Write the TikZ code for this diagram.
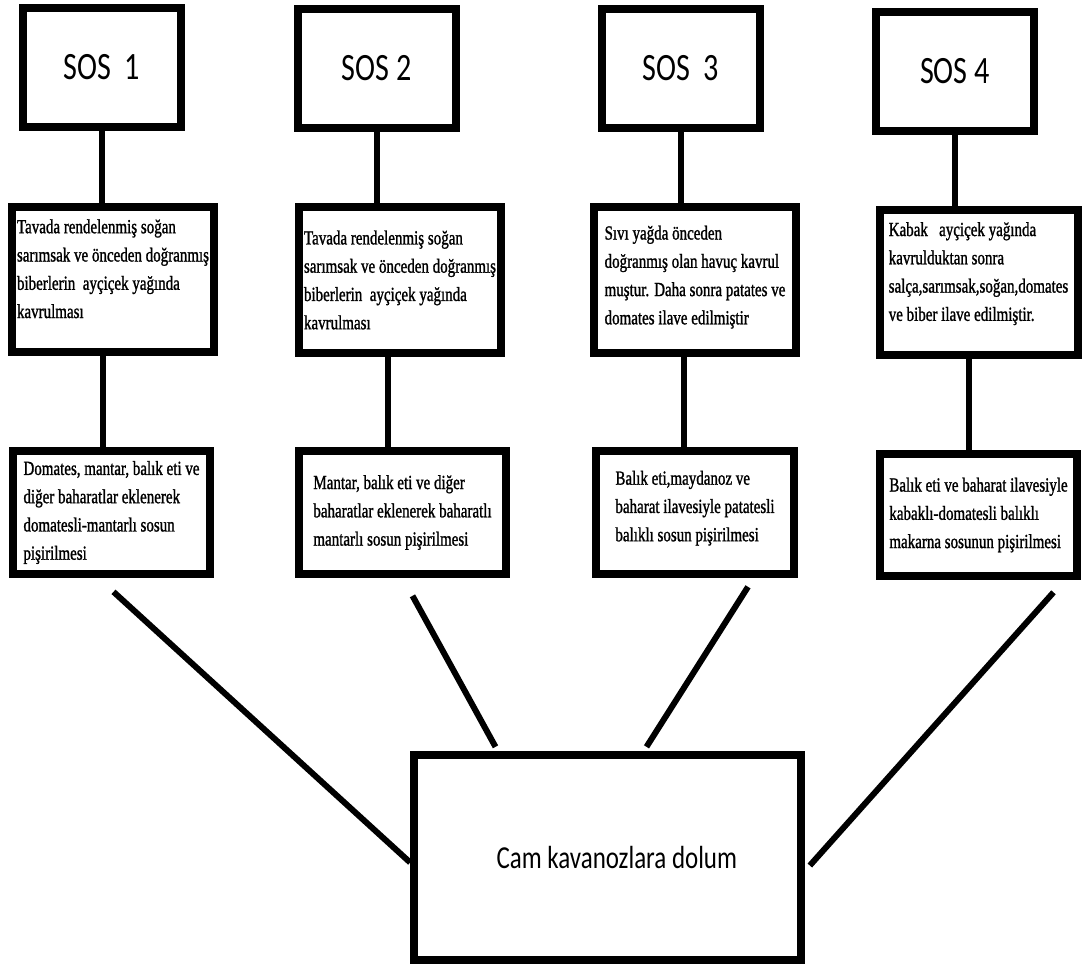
\documentclass[tikz,border=0pt]{standalone}
\usepackage{fontspec}
\newfontfamily\sosfont[FakeStretch=0.78]{Carlito}
\newfontfamily\stepfont[FakeStretch=0.75, FakeBold=1.2]{Liberation Serif}
\usetikzlibrary{positioning, calc}

\begin{document}
\begin{tikzpicture}[
    x=0.75pt, y=-0.75pt,
    sosbox/.style={draw, line width=6pt, minimum width=118.5pt, minimum height=89pt, inner sep=0pt, font=\sosfont\fontsize{29}{34}\selectfont},
    prepbox/.style={draw, line width=6pt, minimum width=151.5pt, minimum height=109pt, inner sep=0pt, align=left, font=\stepfont\fontsize{15}{21.2}\selectfont},
    cookbox/.style={prepbox, minimum width=148pt, minimum height=92pt},
    fillbox/.style={draw, line width=6pt, minimum width=290pt, minimum height=154pt, font=\sosfont\fontsize{24}{28}\selectfont},
    link/.style={line width=4.5pt}
]
\useasboundingbox (0,0) rectangle (1083,968);

% sauces
\node[sosbox] (s1) at (101.5,67.5) {SOS~~1};
\node[sosbox] (s2) at (376.5,68.5) {SOS 2};
\node[sosbox] (s3) at (680.5,68.5) {SOS~~3};
\node[sosbox] (s4) at (955,71.5) {SOS 4};

% first step
\node[prepbox] (m1) at (113,279.5) {Tavada rendelenmiş soğan\\sarımsak ve önceden doğranmış\\biberlerin~~ayçiçek yağında\\kavrulması\\[-5pt]};
\node[prepbox] (m2) at (400,280) {Tavada rendelenmiş soğan\\sarımsak ve önceden doğranmış\\biberlerin~~ayçiçek yağında\\kavrulması};
\node[prepbox] (m3) at (695,280) {Sıvı yağda önceden\\doğranmış olan havuç kavrul\\muştur. Daha sonra patates ve\\domates ilave edilmiştir\\[-13.7pt]};
\node[prepbox, minimum width=148.5pt] (m4) at (978.5,282.5) {Kabak~~~ayçiçek yağında\\kavrulduktan sonra\\salça,sarımsak,soğan,domates\\ve biber ilave edilmiştir.\\[-4.7pt]};

% second step
\node[cookbox] (b1) at (111.5,512.5) {Domates, mantar, balık eti ve\\diğer baharatlar eklenerek\\domatesli-mantarlı sosun\\pişirilmesi};
\node[cookbox, minimum width=155pt] (b2) at (402.5,512.5) {Mantar, balık eti ve diğer\\baharatlar eklenerek baharatlı\\mantarlı sosun pişirilmesi};
\node[cookbox] (b3) at (695,512.5) {Balık eti,maydanoz ve\\baharat ilavesiyle patatesli\\balıklı sosun pişirilmesi\\[-11.5pt]};
\node[cookbox] (b4) at (978.5,515) {Balık eti ve baharat ilavesiyle\\kabaklı-domatesli balıklı\\makarna sosunun pişirilmesi};

\node[fillbox] (fin) at (607.5,857.5) {\hspace*{14pt}Cam kavanozlara dolum\\[0pt]};

\draw[link] (s1) -- (s1 |- m1.north);
\draw[link] (s2) -- (s2 |- m2.north);
\draw[link] (s3) -- (s3 |- m3.north);
\draw[link] (s4) -- (s4 |- m4.north);

\draw[link] ([xshift=-7.5pt]m1.south) -- ([xshift=-7.5pt]m1.south |- b1.north);
\draw[link] ([xshift=-9pt]m2.south) -- ([xshift=-9pt]m2.south |- b2.north);
\draw[link] ([xshift=-8pt]m3.south) -- ([xshift=-8pt]m3.south |- b3.north);
\draw[link] ([xshift=-7pt]m4.south) -- ([xshift=-7pt]m4.south |- b4.north);

\draw[link] ($(b1.south)+(2,14)$) -- ($(fin.west)+(0,5)$);
\draw[link] ($(b2.south)+(10,18)$) -- ($(fin.north)+(-112,-4)$);
\draw[link] ($(b3.south)+(53,9)$) -- ($(fin.north)+(39,-4)$);
\draw[link] ($(b4.south)+(75,12)$) -- ($(fin.east)+(5,8)$);
\end{tikzpicture}
\end{document}
